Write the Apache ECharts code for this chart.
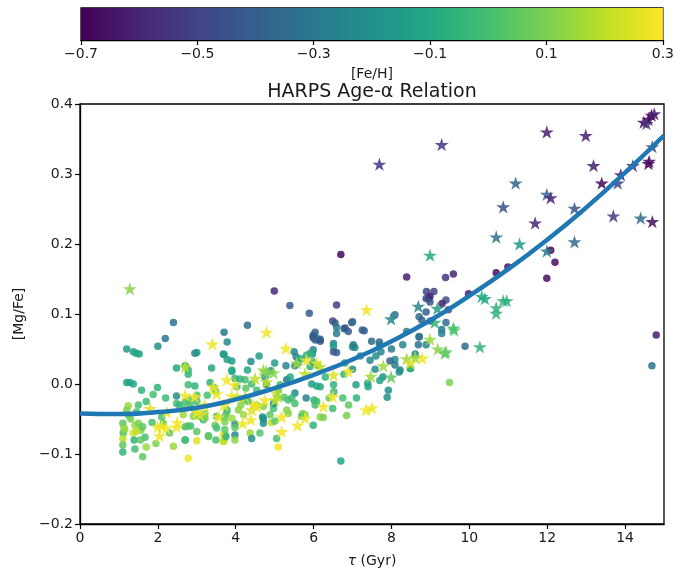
<!DOCTYPE html>
<html>
<head>
<meta charset="utf-8">
<script src="https://cdn.jsdelivr.net/npm/echarts@6/dist/echarts.min.js"></script>
<style>
  html, body { margin: 0; padding: 0; background: #fff; }
  #chart { width: 677px; height: 575px; }
</style>
</head>
<body>
<div id="chart"></div>
<script>
// Each entry: [age τ (Gyr), [Mg/Fe], [Fe/H]]
const circlePoints = [
  [6.70,0.185,-0.68],[4.99,0.133,-0.60],[5.39,0.112,-0.42],[6.59,0.113,-0.52],[8.39,0.153,-0.62],
  [9.39,0.152,-0.55],[9.59,0.157,-0.60],[10.69,0.159,-0.66],[10.99,0.167,-0.64],[11.99,0.151,-0.66],
  [12.09,0.191,-0.68],[12.20,0.174,-0.66],[14.80,0.070,-0.62],[14.69,0.026,-0.32],[8.90,0.132,-0.50],
  [9.09,0.132,-0.50],[8.95,0.122,-0.55],[8.99,0.125,-0.62],[8.89,0.122,-0.48],[8.99,0.117,-0.45],
  [9.40,0.120,-0.45],[9.30,0.115,-0.62],[9.98,0.129,-0.62],[5.89,0.101,-0.42],[4.30,0.084,-0.35],
  [3.70,0.074,-0.30],[2.40,0.088,-0.33],[2.19,0.065,-0.30],[6.49,0.090,-0.48],[6.55,0.087,-0.42],
  [6.59,0.081,-0.30],[6.59,0.072,-0.28],[6.78,0.079,-0.28],[6.98,0.088,-0.40],[6.81,0.080,-0.45],
  [6.89,0.075,-0.42],[7.00,0.089,-0.35],[7.25,0.077,-0.40],[7.30,0.076,-0.40],[7.49,0.061,-0.35],
  [7.69,0.060,-0.35],[7.69,0.056,-0.30],[8.09,0.099,-0.33],[8.71,0.096,-0.35],[8.78,0.091,-0.40],
  [8.89,0.103,-0.40],[9.00,0.090,-0.42],[9.40,0.088,-0.35],[9.29,0.078,-0.30],[9.46,0.106,-0.45],
  [8.69,0.056,-0.33],[8.71,0.067,-0.42],[8.71,0.068,-0.30],[8.61,0.043,-0.25],[8.29,0.056,-0.25],
  [8.39,0.075,-0.28],[8.89,0.056,-0.25],[9.89,0.054,-0.35],[9.29,0.072,-0.25],[7.00,0.053,-0.22],
  [7.06,0.052,-0.22],[7.02,0.056,-0.28],[7.60,0.040,-0.22],[8.09,0.035,-0.22],[7.96,0.033,-0.38],
  [8.09,0.027,-0.28],[8.22,0.020,-0.25],[8.49,0.022,-0.20],[8.20,0.017,-0.20],[7.45,0.034,-0.25],
  [7.58,0.021,-0.22],[7.00,0.021,-0.20],[6.78,0.014,-0.05],[7.09,-0.001,-0.15],[7.39,0.001,-0.12],
  [7.40,-0.004,-0.12],[7.78,0.010,-0.22],[7.92,-0.009,-0.20],[7.89,-0.019,-0.20],[9.49,0.002,0.10],
  [8.48,0.022,-0.05],[5.99,0.070,-0.25],[5.99,0.068,-0.40],[6.04,0.063,-0.35],[6.04,0.074,-0.40],
  [6.12,0.064,-0.50],[6.17,0.064,-0.35],[6.08,0.065,-0.30],[6.51,0.058,-0.25],[6.51,0.054,-0.15],
  [6.51,0.046,-0.42],[6.59,0.045,-0.40],[5.99,0.049,-0.25],[5.97,0.043,-0.22],[5.97,0.032,-0.05],
  [6.08,0.027,-0.10],[5.91,0.025,-0.08],[5.50,0.046,-0.25],[5.55,0.039,-0.25],[5.29,0.026,-0.25],
  [5.52,0.026,-0.25],[5.69,0.036,-0.05],[5.82,0.041,-0.05],[5.91,0.044,-0.05],[5.95,0.000,-0.15],
  [6.08,-0.003,-0.10],[6.17,-0.004,-0.10],[6.51,-0.001,-0.05],[6.52,-0.011,-0.02],[5.81,-0.020,-0.25],
  [6.01,-0.023,-0.05],[6.08,-0.025,-0.02],[6.04,-0.030,0.00],[5.72,-0.042,0.10],[5.78,-0.044,0.12],
  [5.69,-0.046,0.05],[6.17,-0.047,0.12],[6.25,-0.048,0.10],[5.99,-0.059,-0.05],[6.49,-0.035,-0.02],
  [6.70,-0.110,-0.10],[5.09,-0.090,0.28],[3.71,-0.047,0.05],[3.72,-0.054,0.10],[3.98,-0.057,-0.20],
  [3.98,-0.073,-0.22],[3.72,-0.073,0.00],[3.68,-0.082,0.20],[4.37,-0.070,0.15],[4.69,-0.047,-0.22],
  [4.92,-0.055,0.20],[5.01,-0.053,0.05],[3.90,0.020,-0.05],[3.98,0.008,-0.05],[4.03,-0.004,-0.02],
  [4.24,0.006,0.00],[4.26,-0.006,0.05],[4.41,0.000,-0.02],[4.54,-0.009,-0.02],[4.75,0.010,-0.20],
  [4.79,-0.001,-0.22],[4.90,0.019,-0.22],[5.09,-0.009,0.05],[5.14,-0.001,0.00],[5.24,-0.019,0.02],
  [5.35,-0.023,0.00],[4.54,-0.030,0.15],[4.71,-0.032,0.12],[4.20,-0.023,0.15],[4.13,-0.030,0.12],
  [4.97,-0.035,0.00],[4.88,-0.044,0.05],[5.52,-0.013,-0.22],[5.31,0.006,-0.30],[3.78,0.060,-0.22],
  [3.70,0.042,-0.15],[3.78,0.035,-0.15],[3.90,0.033,-0.15],[4.39,0.032,-0.22],[1.20,0.050,-0.15],
  [1.37,0.046,-0.12],[1.44,0.044,-0.12],[1.52,0.043,-0.12],[2.00,0.054,-0.20],[3.00,0.045,-0.15],
  [3.68,0.043,-0.15],[2.70,0.026,-0.08],[2.78,0.020,-0.05],[2.78,0.014,-0.05],[2.48,0.023,-0.10],
  [3.38,0.023,-0.10],[1.20,0.002,-0.12],[1.28,0.002,-0.12],[1.37,0.000,-0.10],[1.58,-0.009,-0.05],
  [1.99,-0.005,-0.05],[1.88,-0.015,0.00],[1.70,-0.025,-0.02],[1.50,-0.030,0.00],[1.24,-0.031,0.15],
  [1.20,-0.037,0.10],[2.48,-0.017,-0.20],[2.48,-0.028,0.00],[2.78,-0.001,-0.02],[2.95,-0.003,-0.05],
  [3.00,-0.016,0.00],[2.81,-0.023,0.05],[2.83,-0.030,0.00],[2.95,-0.037,0.05],[2.65,-0.044,0.15],
  [2.91,-0.046,0.12],[2.10,-0.047,0.00],[2.14,-0.056,0.05],[1.10,-0.056,0.05],[1.13,-0.063,0.10],
  [1.11,-0.070,0.00],[1.41,-0.059,0.15],[1.50,-0.056,0.10],[1.56,-0.066,0.12],[1.61,-0.061,0.05],
  [1.37,-0.070,0.25],[1.44,-0.068,0.20],[1.10,-0.078,0.20],[1.10,-0.087,0.05],[1.10,-0.097,-0.05],
  [1.39,-0.080,-0.05],[1.41,-0.093,0.00],[1.61,-0.104,0.05],[1.67,-0.076,0.00],[1.70,-0.090,0.15],
  [2.40,-0.089,0.15],[2.70,-0.080,-0.10],[3.00,-0.081,0.25],[2.78,-0.106,0.28],[3.30,-0.074,0.00],
  [3.49,-0.080,0.00],[2.70,-0.061,0.00],[2.76,-0.060,0.05],[2.84,-0.060,0.00],[3.00,-0.068,0.05],
  [3.17,-0.051,-0.05],[3.08,-0.046,0.00],[3.51,-0.046,0.00],[3.47,-0.059,0.05],[3.68,-0.073,0.28],
  [3.70,-0.081,0.20],[3.34,0.002,-0.05],[3.44,-0.005,0.00],[3.49,-0.011,0.05],[3.27,-0.016,0.00],
  [7.73,0.046,-0.25],[6.75,-0.020,0.00],[6.90,-0.030,0.05],[7.10,-0.020,-0.05],[6.85,-0.045,0.10],
  [2.95,0.044,-0.22],[3.90,0.018,-0.10],[4.11,0.007,-0.05],[5.60,0.030,-0.15],[5.99,0.066,-0.42],
  [6.17,0.061,-0.45],[2.70,-0.025,0.00],[2.72,-0.034,0.05],[3.00,-0.025,-0.02],[3.21,-0.042,0.15],
  [3.21,-0.049,0.10],[3.76,-0.042,0.05],[3.78,-0.037,0.00],[3.90,-0.049,0.15],[3.98,-0.062,0.05],
  [3.51,-0.063,0.00],[3.72,-0.065,0.05],[3.75,-0.075,-0.05],[3.30,-0.075,0.05],[2.70,-0.080,0.00],
  [4.71,-0.050,-0.20],[4.71,-0.056,-0.20],[4.07,-0.037,0.12],[4.20,-0.044,0.15],[4.32,-0.025,0.00],
  [4.97,-0.028,-0.20],[5.31,-0.037,0.12],[5.35,-0.042,0.12],[5.44,-0.020,-0.02],[5.52,-0.028,0.00],
  [5.05,-0.078,0.00],[4.62,-0.070,0.02],[3.98,-0.080,0.12],[4.41,-0.078,-0.20],[1.25,-0.045,0.05],
  [1.30,-0.050,0.10],[1.45,-0.040,0.00],[1.15,-0.065,0.15],[1.55,-0.080,0.05],[1.85,-0.055,0.00],
  [1.95,-0.085,0.10],[2.30,-0.070,0.05],[2.55,-0.030,-0.05],[2.20,-0.020,-0.02],[6.30,0.010,-0.05],
  [6.40,-0.020,0.05],[6.80,0.030,-0.15],[7.20,0.040,-0.20],[7.70,0.005,-0.10],[8.00,0.050,-0.28],
  [5.40,0.010,-0.10],[5.00,0.030,-0.15],[4.60,0.040,-0.15],[4.30,0.020,-0.10]
];

// Each entry: [age τ (Gyr), [Mg/Fe], [Fe/H]]
const starPoints = [
  [14.68,0.384,-0.70],[14.48,0.374,-0.65],[14.60,0.378,-0.68],[14.75,0.386,-0.62],[14.55,0.372,-0.55],
  [11.99,0.360,-0.62],[12.99,0.355,-0.62],[13.19,0.312,-0.62],[13.40,0.287,-0.68],[13.81,0.287,-0.52],
  [13.89,0.299,-0.60],[14.20,0.312,-0.55],[14.60,0.315,-0.68],[14.62,0.318,-0.66],[14.70,0.339,-0.45],
  [14.70,0.232,-0.66],[14.40,0.237,-0.35],[13.70,0.240,-0.52],[12.70,0.251,-0.45],[12.70,0.203,-0.35],
  [11.99,0.271,-0.38],[12.09,0.266,-0.60],[11.69,0.230,-0.60],[11.19,0.287,-0.38],[10.87,0.253,-0.45],
  [10.69,0.210,-0.33],[11.29,0.200,-0.18],[11.99,0.190,-0.30],[7.69,0.314,-0.55],[9.29,0.342,-0.55],
  [8.99,0.184,-0.10],[1.28,0.136,0.12],
  [8.69,0.111,-0.25],[9.18,0.108,-0.15],[10.32,0.125,-0.10],[10.40,0.122,-0.10],[10.87,0.119,-0.05],
  [10.96,0.119,-0.08],[10.69,0.109,-0.05],[10.69,0.101,-0.05],[7.99,0.093,-0.25],[7.36,0.106,0.28],
  [9.11,0.088,-0.05],[9.59,0.080,0.00],[9.61,0.077,0.02],[10.27,0.053,-0.05],[8.99,0.064,0.15],
  [9.19,0.050,0.12],[9.40,0.046,0.05],[9.37,0.044,0.05],[8.79,0.037,0.28],[8.61,0.038,0.15],
  [8.39,0.036,0.15],[7.79,0.026,0.15],[8.48,0.030,0.25],[7.47,0.011,0.15],[7.99,0.010,0.05],
  [6.89,0.018,0.28],[6.51,0.013,0.25],[6.08,0.030,0.28],[7.35,-0.037,0.28],[7.50,-0.034,0.28],
  [4.79,0.074,0.28],[5.29,0.051,0.28],[5.82,0.034,0.28],[6.17,0.025,0.20],[4.71,0.020,0.15],
  [4.79,0.018,0.10],[4.97,0.016,0.12],[4.50,0.008,0.20],[3.77,0.006,0.28],[3.98,-0.001,0.28],
  [3.90,-0.017,0.28],[4.03,-0.018,0.25],[4.45,-0.030,0.28],[4.54,-0.032,0.28],[4.41,-0.037,0.25],
  [4.24,-0.018,0.20],[5.05,-0.013,0.20],[5.09,-0.018,0.15],[5.01,-0.023,0.20],[4.75,-0.023,0.28],
  [4.18,-0.056,0.28],[4.39,-0.051,0.28],[5.18,-0.047,0.28],[5.18,-0.068,0.28],[5.59,-0.059,0.28],
  [5.78,-0.049,0.28],[6.25,-0.032,0.28],[6.49,-0.018,0.28],[5.57,0.030,0.15],[5.78,0.015,0.20],
  [4.79,0.003,0.20],[3.40,0.057,0.28],[2.70,0.025,0.20],[2.70,-0.016,0.28],[2.95,-0.018,0.28],
  [1.99,-0.061,0.28],[2.10,-0.060,0.28],[2.21,-0.063,0.28],[2.04,-0.074,0.28],[2.50,-0.055,0.28],
  [2.48,-0.061,0.28],[3.00,-0.040,0.28],[3.08,-0.044,0.25],[3.42,-0.004,0.28],[3.51,-0.014,0.28],
  [3.55,-0.047,0.28],[2.23,-0.040,0.28],[1.80,-0.035,0.25],[3.70,-0.030,0.28],[3.20,-0.030,0.25]
];

// Fitted age–[Mg/Fe] relation
const fitAge   = [0, 1, 2, 3, 4, 5, 6, 7, 8, 9, 10, 11, 12, 13, 14, 15];
const fitMgFe  = [-0.042, -0.043, -0.040, -0.034, -0.022, -0.006, 0.013, 0.035,
                  0.061, 0.091, 0.126, 0.164, 0.206, 0.252, 0.302, 0.355];

// Colour bar range and palette
const fehRange = [-0.7, 0.3];
const viridis = ['#440154','#482475','#414487','#355f8d','#2a788e','#21918c',
                 '#22a884','#44bf70','#7ad151','#bddf26','#fde725'];

const STAR = 'path://M0 -1 L0.2245 -0.309 L0.951 -0.309 L0.363 0.118 L0.588 0.809 L0 0.382 L-0.588 0.809 L-0.363 0.118 L-0.951 -0.309 L-0.2245 -0.309 Z';
const FONT = 'DejaVu Sans';
const INK = '#1a1a1a';
const fmt1 = v => (Math.abs(v) < 1e-9 ? 0 : v).toFixed(1).replace('-', '\u2212');

const chart = echarts.init(document.getElementById('chart'), null, { renderer: 'canvas' });

chart.setOption({
  animation: false,
  backgroundColor: '#fff',
  textStyle: { fontFamily: FONT },
  graphic: [{
    type: 'text', x: 372, y: 92,
    style: { text: 'HARPS Age-\u03b1 Relation', font: '19px "DejaVu Sans"', fill: INK,
             align: 'center', verticalAlign: 'middle' }
  }],
  grid: [
    { left: 80, right: 13, top: 104, bottom: 51, show: true, borderColor: '#000', borderWidth: 1.3, backgroundColor: 'transparent' },
    { left: 81, right: 14, top: 8, height: 32, show: true, borderColor: '#000', borderWidth: 1.3, backgroundColor: 'transparent' }
  ],
  xAxis: [
    {
      gridIndex: 0, type: 'value', min: 0, max: 15, interval: 2,
      axisLine: { show: true, onZero: false, lineStyle: { color: '#000', width: 1.3 } },
      axisTick: { show: true, length: 5, lineStyle: { color: '#000', width: 1.2 } },
      axisLabel: { fontSize: 14, color: INK, margin: 7, fontFamily: FONT, showMaxLabel: false },
      splitLine: { show: false },
      name: '{i|\u03c4} (Gyr)', nameLocation: 'middle', nameGap: 30,
      nameTextStyle: { fontSize: 14, color: INK, fontFamily: FONT,
        rich: { i: { fontSize: 14, fontStyle: 'italic', color: INK, fontFamily: FONT } } }
    },
    {
      gridIndex: 1, type: 'value', min: fehRange[0], max: fehRange[1], interval: 0.2,
      axisLine: { show: true, onZero: false, lineStyle: { color: '#000', width: 1.3 } },
      axisTick: { show: true, length: 5, lineStyle: { color: '#000', width: 1.2 } },
      axisLabel: { fontSize: 14, color: INK, margin: 7, fontFamily: FONT, formatter: fmt1 },
      splitLine: { show: false },
      name: '[Fe/H]', nameLocation: 'middle', nameGap: 27,
      nameTextStyle: { fontSize: 14, color: INK, fontFamily: FONT }
    }
  ],
  yAxis: [
    {
      gridIndex: 0, type: 'value', min: -0.2, max: 0.4, interval: 0.1,
      axisLine: { show: true, onZero: false, lineStyle: { color: '#000', width: 1.3 } },
      axisTick: { show: true, length: 5, lineStyle: { color: '#000', width: 1.2 } },
      axisLabel: { fontSize: 14, color: INK, margin: 7, fontFamily: FONT, formatter: fmt1 },
      splitLine: { show: false },
      name: '[Mg/Fe]', nameLocation: 'middle', nameGap: 54, nameRotate: 90,
      nameTextStyle: { fontSize: 14, color: INK, fontFamily: FONT }
    },
    { gridIndex: 1, type: 'value', min: 0, max: 1, show: false }
  ],
  visualMap: {
    type: 'continuous', show: false, dimension: 2, seriesIndex: [0, 1],
    min: fehRange[0], max: fehRange[1], inRange: { color: viridis }
  },
  series: [
    {
      name: 'circles', type: 'scatter', xAxisIndex: 0, yAxisIndex: 0,
      symbol: 'circle', symbolSize: 7.5, data: circlePoints,
      itemStyle: { opacity: 0.85 }, z: 2
    },
    {
      name: 'stars', type: 'scatter', xAxisIndex: 0, yAxisIndex: 0,
      symbol: STAR, symbolKeepAspect: true, symbolSize: 14, data: starPoints,
      itemStyle: { opacity: 0.85 }, z: 3
    },
    {
      name: 'fit', type: 'line', xAxisIndex: 0, yAxisIndex: 0,
      data: fitAge.map((a, i) => [a, fitMgFe[i]]),
      smooth: true, showSymbol: false, symbol: 'none',
      lineStyle: { color: '#1f77b4', width: 4.5 }, z: 5
    },
    {
      name: 'colorbar', type: 'custom', xAxisIndex: 1, yAxisIndex: 1,
      data: [[fehRange[0], fehRange[1]]],
      renderItem: function (params, api) {
        const p0 = api.coord([api.value(0), 1]);
        const p1 = api.coord([api.value(1), 0]);
        return {
          type: 'rect',
          shape: { x: p0[0], y: p0[1], width: p1[0] - p0[0], height: p1[1] - p0[1] },
          style: {
            fill: new echarts.graphic.LinearGradient(0, 0, 1, 0,
              viridis.map((c, i) => ({ offset: i / (viridis.length - 1), color: c })))
          }
        };
      },
      z: 1
    }
  ]
});
</script>
</body>
</html>
